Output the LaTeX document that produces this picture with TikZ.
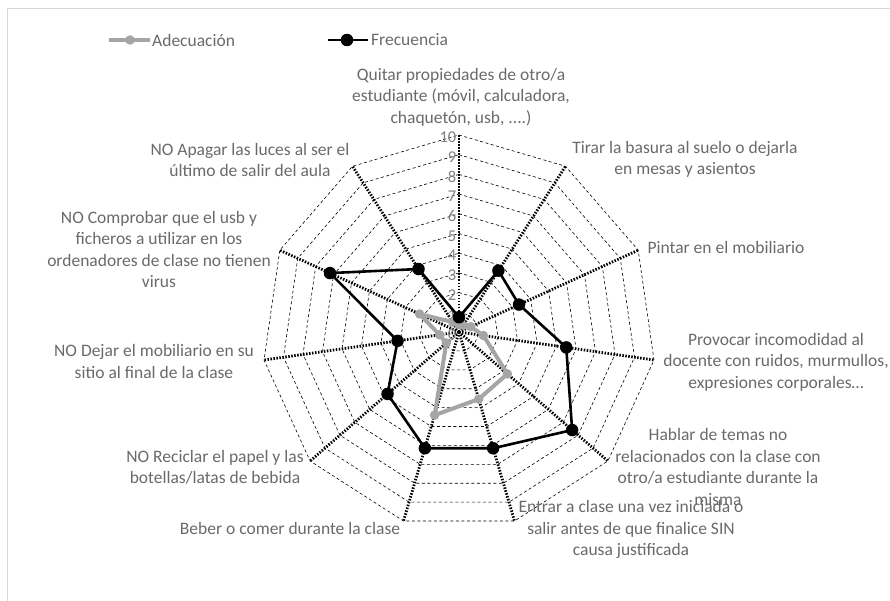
\documentclass[tikz,border=0pt]{standalone}
\usepackage{fontspec}
\setmainfont{Carlito}
\definecolor{txt}{HTML}{6A6A6A}
\definecolor{numc}{HTML}{808080}
\definecolor{adec}{HTML}{A5A5A5}
\definecolor{frame}{HTML}{D9D9D9}
\begin{document}
\begin{tikzpicture}[x=1pt,y=-1pt,
  ring/.style={draw=black, line width=0.6pt, dash pattern=on 3pt off 2.5pt},
  spoke/.style={draw=black, line width=2.8pt, dash pattern=on 1.5pt off 1.5pt},
  lbl/.style={text=txt, inner sep=0pt, align=center, font=\fontsize{17.5}{21.4}\selectfont},
  num/.style={text=numc, inner sep=0pt, anchor=east, font=\fontsize{16.5}{18}\selectfont},
  freq/.style={draw=black, line width=2.6pt, line join=round},
  adeq/.style={draw=adec, line width=4pt, line join=round},
  fdot/.style={circle, fill=black, inner sep=0pt, minimum size=12.5pt},
  adot/.style={circle, fill=adec, inner sep=0pt, minimum size=9.5pt},
]
\useasboundingbox (0,0) rectangle (890,601);
\fill[white] (0,0) rectangle (890,601);
\draw[frame, line width=1pt] (7,640) -- (7,9) -- (900,9);

\coordinate (C) at (459,332);

% rings
\foreach \j in {1,...,10}{
  \draw[ring] plot[samples at={0,...,10}] ({459+19.7*\j*sin(\x*360/11)},{332-19.7*\j*cos(\x*360/11)}) -- cycle;
}
% spokes
\foreach \k in {0,...,10}{
  \coordinate (A\k) at ({459+197*sin(\k*360/11)},{332-197*cos(\k*360/11)});
  \draw[spoke] (C) -- (A\k);
}
% axis numbers
\foreach \n in {0,...,10}{
  \node[num] (n\n) at (456.5,{332-19.7*\n+2.5}) {\n};
}

% series Adecuacion
\foreach \v [count=\i from 0] in {0.37,0.4,0.65,1.25,3.25,3.55,4.4,0.85,1.0,2.2,0.6}{
  \coordinate (G\i) at ({459+19.7*\v*sin(\i*360/11)},{332-19.7*\v*cos(\i*360/11)});
}
\draw[adeq] (G0) -- (G1) -- (G2) -- (G3) -- (G4) -- (G5) -- (G6) -- (G7) -- (G8) -- (G9) -- (G10) -- cycle;
\foreach \i in {0,...,10}{ \node[adot] (g\i) at (G\i) {}; }

% series Frecuencia
\foreach \v [count=\i from 0] in {0.75,3.7,3.35,5.5,7.6,6.15,6.15,4.8,3.15,7.2,3.8}{
  \coordinate (F\i) at ({459+19.7*\v*sin(\i*360/11)},{332-19.7*\v*cos(\i*360/11)});
}
\draw[freq] (F0) -- (F1) -- (F2) -- (F3) -- (F4) -- (F5) -- (F6) -- (F7) -- (F8) -- (F9) -- (F10) -- cycle;
\foreach \i in {0,...,10}{ \node[fdot] (f\i) at (F\i) {}; }

% category labels
\node[lbl] (L0) at (461,97) {Quitar propiedades de otro/a\\estudiante (móvil, calculadora,\\chaquetón, usb, ....)};
\node[lbl] (L1) at (685,159.5) {Tirar la basura al suelo o dejarla\\en mesas y asientos};
\node[lbl] (L2) at (726,247) {Pintar en el mobiliario};
\node[lbl] (L3) at (776,362) {Provocar incomodidad al\\docente con ruidos, murmullos,\\expresiones corporales…};
\node[lbl] (L4) at (718,467) {Hablar de temas no\\relacionados con la clase con\\otro/a estudiante durante la\\misma};
\node[lbl] (L5) at (631,529.5) {Entrar a clase una vez iniciada o\\salir antes de que finalice SIN\\causa justificada};
\node[lbl] (L6) at (290,528) {Beber o comer durante la clase};
\node[lbl] (L7) at (215,467) {NO Reciclar el papel y las\\botellas/latas de bebida};
\node[lbl] (L8) at (154,361.5) {NO Dejar el mobiliario en su\\sitio al final de la clase};
\node[lbl] (L9) at (159,249.5) {NO Comprobar que el usb y\\ficheros a utilizar en los\\ordenadores de clase no tienen\\virus};
\node[lbl] (L10) at (250,160) {NO Apagar las luces al ser el\\último de salir del aula};

% legend
\coordinate (la1) at (109,40); \coordinate (lb1) at (150,40);
\draw[adeq] (la1) -- (lb1);
\node[adot] (lm1) at (130,40) {};
\node[lbl, anchor=west] (lt1) at (152,40) {Adecuación};
\coordinate (la2) at (328,40); \coordinate (lb2) at (368,40);
\draw[freq] (la2) -- (lb2);
\node[fdot] (lm2) at (347,40) {};
\node[lbl, anchor=west] (lt2) at (371,40) {Frecuencia};
\end{tikzpicture}
\end{document}
